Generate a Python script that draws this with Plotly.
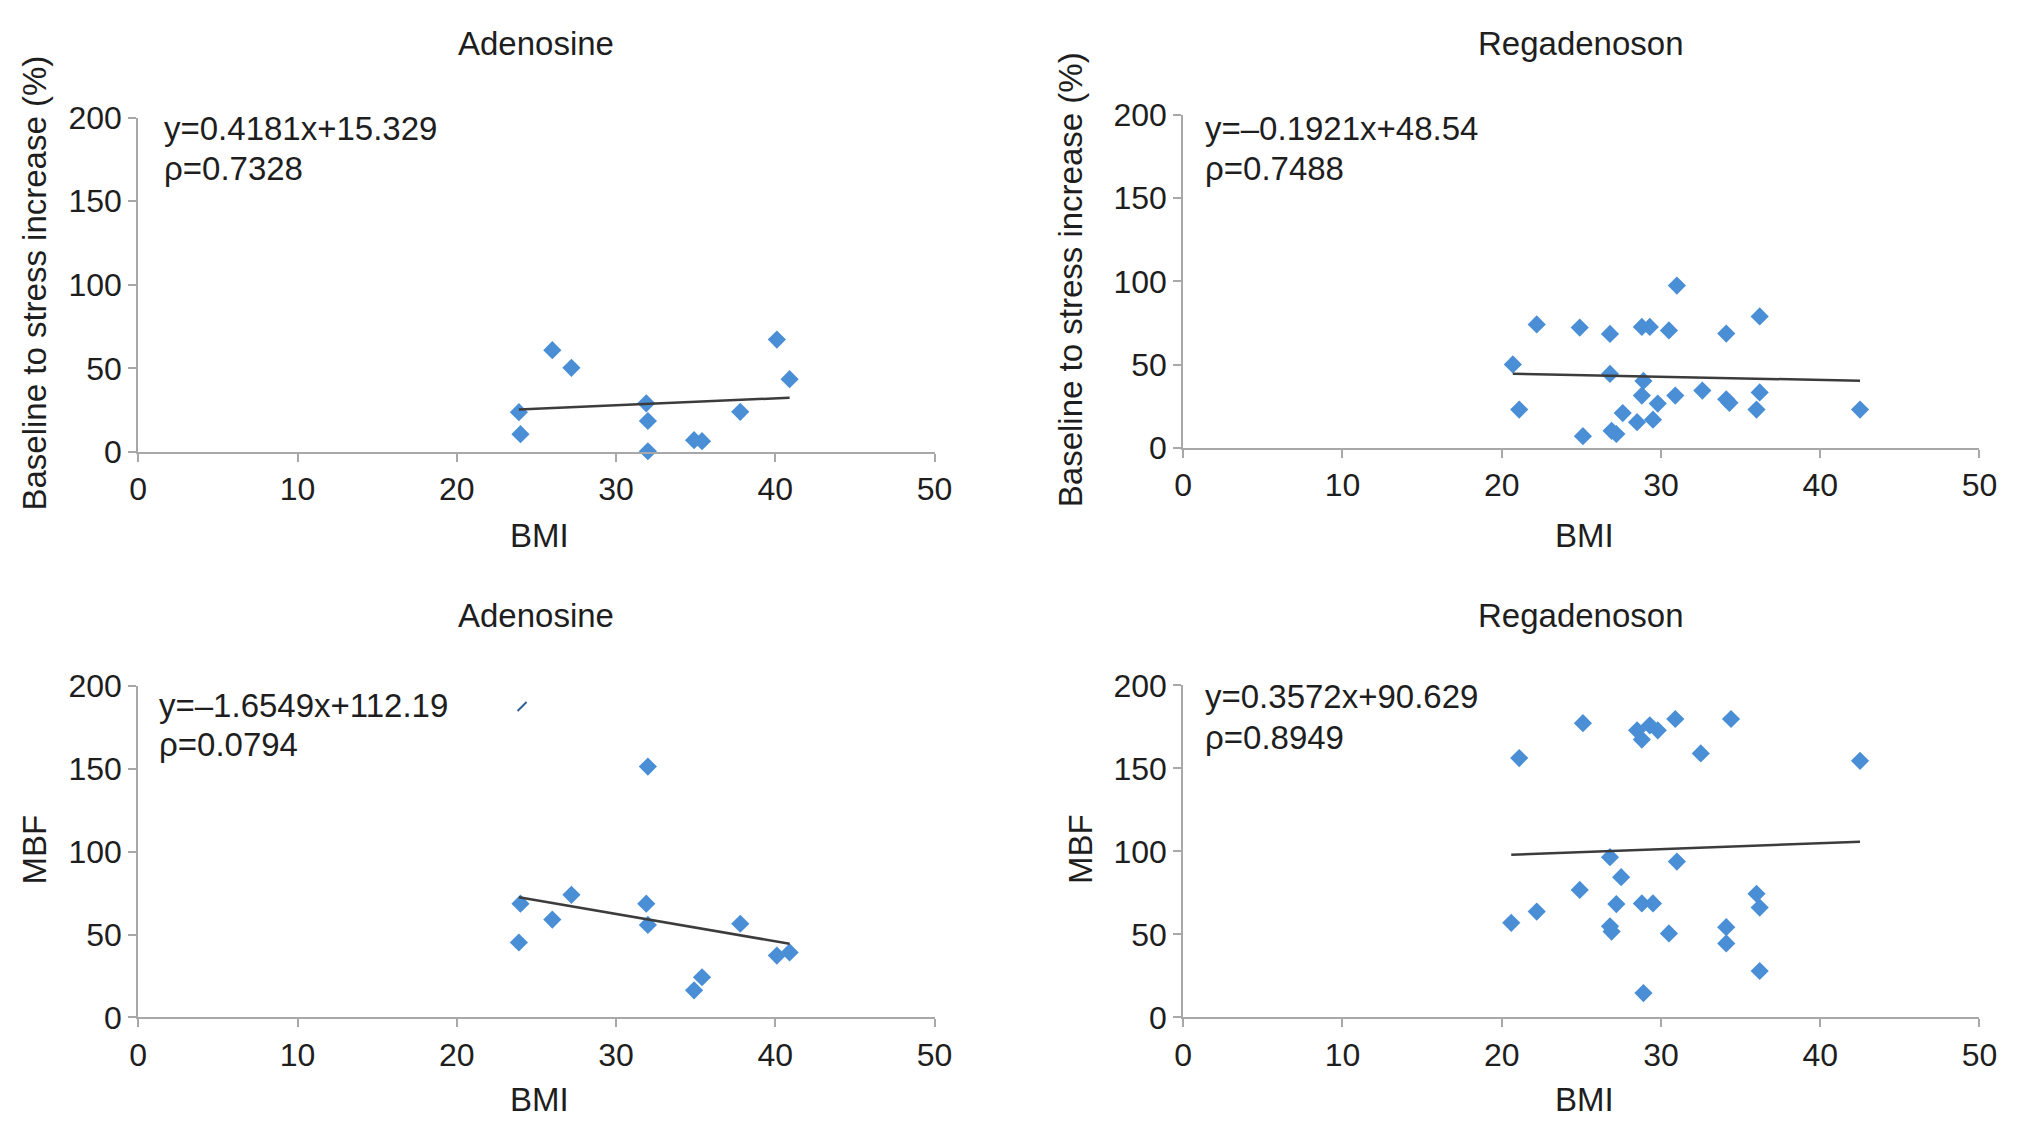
import plotly.graph_objects as go

W, H = 2032, 1143

# ---------------- data ----------------
ado_bmi = [23.9, 24.0, 26.0, 27.2, 31.9, 32.0, 32.0, 34.9, 35.4, 37.8, 40.1, 40.9]
ado_increase = [23.8, 10.6, 60.9, 50.3, 29.1, 18.5, 0.4, 7.0, 6.4, 24.0, 67.2, 43.5]

ado_mbf_bmi = [23.9, 24.0, 26.0, 27.2, 31.9, 32.0, 32.0, 34.9, 35.4, 37.8, 40.1, 40.9]
ado_mbf = [45.3, 68.7, 59.1, 74.1, 68.7, 151.5, 55.9, 16.4, 24.3, 56.6, 37.4, 39.3]
ado_mbf_glyph_bmi = [24.1]
ado_mbf_glyph = [187.8]

reg_bmi = [20.7, 21.1, 22.2, 24.9, 25.1, 26.8, 26.8, 26.9, 27.2, 27.6, 28.5, 28.8, 28.8, 28.9,
           29.3, 29.5, 29.8, 30.5, 30.9, 31.0, 32.6, 34.1, 34.1, 34.3, 36.0, 36.2, 36.2, 42.5]
reg_increase = [50.2, 23.1, 74.2, 72.3, 7.1, 68.5, 44.5, 10.3, 8.4, 21.0, 15.5, 72.7, 31.5, 40.3,
                72.7, 17.0, 26.7, 70.6, 31.5, 97.5, 34.5, 29.2, 68.7, 27.1, 23.1, 33.4, 79.0, 23.1]

reg_mbf_bmi = [20.6, 21.1, 22.2, 24.9, 25.1, 26.8, 26.8, 26.9, 27.2, 27.5, 28.5, 28.8, 28.8, 28.9,
               29.3, 29.5, 29.8, 30.5, 30.9, 31.0, 32.5, 34.1, 34.1, 34.4, 36.0, 36.2, 36.2, 42.5]
reg_mbf = [57.0, 156.2, 63.8, 76.8, 177.2, 96.5, 54.9, 51.7, 68.3, 84.5, 172.9, 167.3, 68.7, 14.7,
           175.9, 68.7, 172.9, 50.6, 179.7, 93.9, 159.0, 54.4, 44.6, 179.7, 74.5, 66.2, 28.0, 154.5]

# trend-line coefficients (slope, intercept) and labels as printed on the chart
fits = {
    "tl": (0.4181, 15.329, "y=0.4181x+15.329", "ρ=0.7328"),
    "tr": (-0.1921, 48.54, "y=–0.1921x+48.54", "ρ=0.7488"),
    "bl": (-1.6549, 112.19, "y=–1.6549x+112.19", "ρ=0.0794"),
    "br": (0.3572, 90.629, "y=0.3572x+90.629", "ρ=0.8949"),
}
titles = {"tl": "Adenosine", "tr": "Regadenoson", "bl": "Adenosine", "br": "Regadenoson"}
ylabels = {"tl": "Baseline to stress increase (%)", "tr": "Baseline to stress increase (%)",
           "bl": "MBF", "br": "MBF"}
x_ticks = [0, 10, 20, 30, 40, 50]
y_ticks = [0, 50, 100, 150, 200]

# ---------------- layout geometry (pixels) ----------------
FONT = "Liberation Sans, Arial, sans-serif"
BLUE = "#4a8fd6"
AXIS = "#a8a8a8"
TXT = "#1e1e1e"

panels = {
    # x0, x1, ytop, ybottom
    "tl": (131, 938, 103, 448),
    "tr": (1190, 1997, 100, 444),
    "bl": (131, 938, 690, 1032),
    "br": (1190, 1997, 689, 1032),
}
title_y = {"tl": 26, "tr": 26, "bl": 617, "br": 617}
bmi_y = {"tl": 534, "tr": 534, "bl": 1117, "br": 1117}
ylab_x = {"tl": 26, "tr": 1076, "bl": 26, "br": 1086}
eq_pos = {"tl": (155, 114, 155), "tr": (1210, 114, 155), "bl": (150, 710, 750), "br": (1210, 701, 743)}

series = {
    "tl": (ado_bmi, ado_increase),
    "tr": (reg_bmi, reg_increase),
    "bl": (ado_mbf_bmi, ado_mbf),
    "br": (reg_mbf_bmi, reg_mbf),
}


def px(x):
    return x / W


def py(y):
    return 1 - y / H


fig = go.Figure()
annotations = []
for i, key in enumerate(["tl", "tr", "bl", "br"]):
    n = "" if i == 0 else str(i + 1)
    xa, ya = "x" + n, "y" + n
    x0, x1, yt, yb = panels[key]
    xs, ys = series[key]
    slope, icpt, eq, rho = fits[key]

    fig.add_trace(go.Scatter(
        x=xs, y=ys, mode="markers", xaxis=xa, yaxis=ya, showlegend=False,
        marker=dict(symbol="diamond", size=14, color=BLUE, line=dict(width=0)),
        cliponaxis=False,
    ))
    lx = [min(xs), max(xs)]
    fig.add_trace(go.Scatter(
        x=lx, y=[slope * v + icpt for v in lx], mode="lines", xaxis=xa, yaxis=ya,
        showlegend=False, line=dict(color="#3c3c3c", width=2.5),
    ))
    if key == "bl":
        fig.add_trace(go.Scatter(
            x=ado_mbf_glyph_bmi, y=ado_mbf_glyph, mode="markers", xaxis=xa, yaxis=ya,
            showlegend=False,
            marker=dict(symbol="line-ne", size=9, line=dict(color="#2f5f95", width=2)),
        ))

    axis_common = dict(
        showgrid=False, zeroline=False, showline=True, linecolor=AXIS, linewidth=2,
        ticks="outside", ticklen=8, tickwidth=2, tickcolor=AXIS,
        tickfont=dict(family=FONT, size=32, color=TXT), fixedrange=True,
    )
    fig.update_layout(**{
        "xaxis" + n: dict(domain=[px(x0), px(x1)], range=[0, 50], tickvals=x_ticks,
                          anchor=ya, **axis_common),
        "yaxis" + n: dict(domain=[py(yb), py(yt)], range=[0, 200], tickvals=y_ticks,
                          anchor=xa, **axis_common),
    })

    cx = (x0 + x1) / 2
    annotations += [
        dict(x=px(cx), y=py(title_y[key]), xref="paper", yref="paper", text=titles[key],
             showarrow=False, xanchor="center", yanchor="middle",
             font=dict(family=FONT, size=33, color=TXT)),
        dict(x=px(cx + 3), y=py(bmi_y[key]), xref="paper", yref="paper", text="BMI",
             showarrow=False, xanchor="center", yanchor="middle",
             font=dict(family=FONT, size=33, color=TXT)),
        dict(x=px(ylab_x[key]), y=py((yt + yb) / 2 - 2), xref="paper", yref="paper",
             text=ylabels[key], textangle=-90, showarrow=False, xanchor="center",
             yanchor="middle", font=dict(family=FONT, size=33, color=TXT)),
        dict(x=px(eq_pos[key][0]), y=py(eq_pos[key][1]), xref="paper", yref="paper",
             text=eq, showarrow=False, xanchor="left", yanchor="middle",
             font=dict(family=FONT, size=33, color=TXT)),
        dict(x=px(eq_pos[key][0]), y=py(eq_pos[key][2]), xref="paper", yref="paper",
             text=rho, showarrow=False, xanchor="left", yanchor="middle",
             font=dict(family=FONT, size=33, color=TXT)),
    ]

fig.update_layout(
    width=W, height=H, margin=dict(l=0, r=0, t=0, b=0),
    paper_bgcolor="white", plot_bgcolor="white", annotations=annotations,
    font=dict(family=FONT, color=TXT),
)

fig.write_html("out.html", config={"displayModeBar": False})

# remove the browser's default page margin so the figure fills the window exactly
with open("out.html", "r", encoding="utf-8") as f:
    html = f.read()
html = html.replace("<head>", "<head><style>html,body{margin:0;padding:0;overflow:hidden;}</style>", 1)
with open("out.html", "w", encoding="utf-8") as f:
    f.write(html)
